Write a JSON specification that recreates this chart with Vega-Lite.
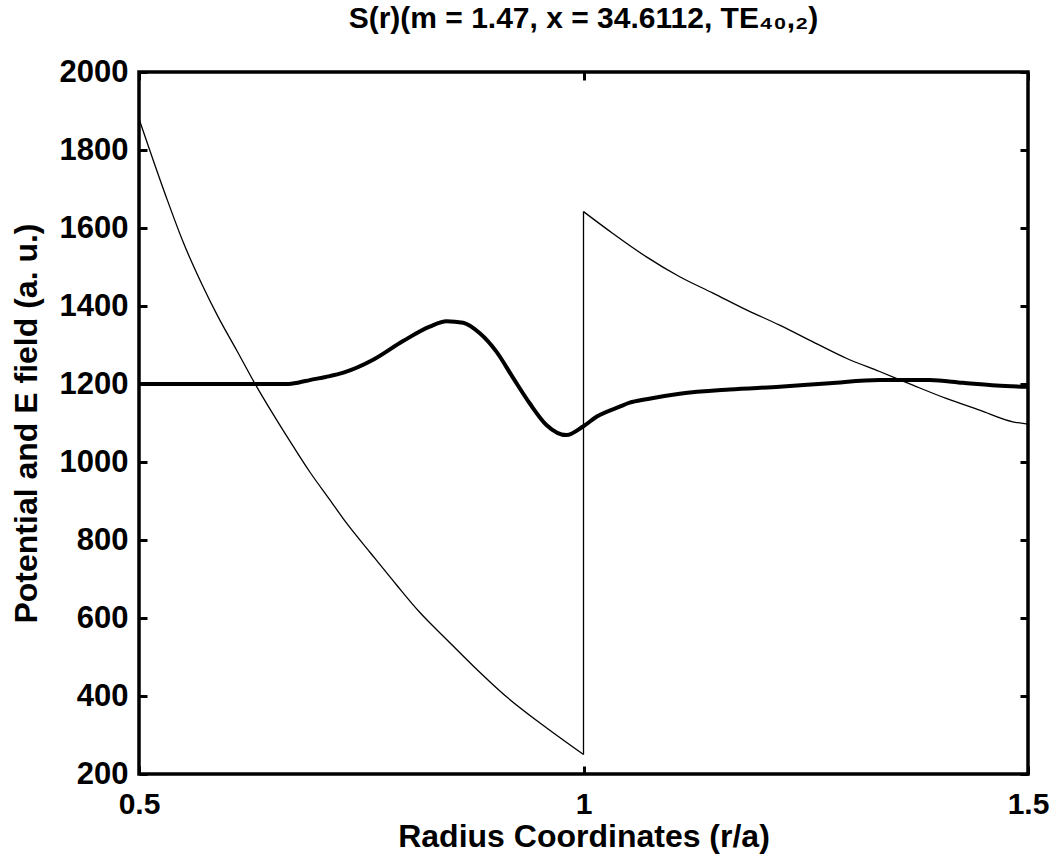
{
  "$schema": "https://vega.github.io/schema/vega-lite/v6.json",
  "width": 889,
  "height": 702,
  "autosize": {"type": "none"},
  "padding": {"left": 139, "top": 72, "right": 29, "bottom": 84},
  "background": "white",
  "title": {
    "text": "S(r)(m = 1.47, x = 34.6112, TE₄₀,₂)",
    "font": "Liberation Sans",
    "fontSize": 30,
    "fontWeight": "bold",
    "color": "black",
    "anchor": "middle",
    "frame": "group",
    "baseline": "alphabetic",
    "offset": 3,
    "dy": 5
  },
  "datasets": {
    "potential": [
      {"seg": "inner", "r": 0.5, "v": 1880},
      {"seg": "inner", "r": 0.512, "v": 1800},
      {"seg": "inner", "r": 0.531, "v": 1677},
      {"seg": "inner", "r": 0.55, "v": 1562},
      {"seg": "inner", "r": 0.5705, "v": 1457},
      {"seg": "inner", "r": 0.589, "v": 1372},
      {"seg": "inner", "r": 0.61, "v": 1286},
      {"seg": "inner", "r": 0.6304, "v": 1201},
      {"seg": "inner", "r": 0.651, "v": 1122},
      {"seg": "inner", "r": 0.6735, "v": 1040},
      {"seg": "inner", "r": 0.692, "v": 975},
      {"seg": "inner", "r": 0.7147, "v": 903},
      {"seg": "inner", "r": 0.7335, "v": 843},
      {"seg": "inner", "r": 0.76, "v": 768},
      {"seg": "inner", "r": 0.79, "v": 684},
      {"seg": "inner", "r": 0.816, "v": 614},
      {"seg": "inner", "r": 0.846, "v": 545},
      {"seg": "inner", "r": 0.876, "v": 477},
      {"seg": "inner", "r": 0.9134, "v": 398},
      {"seg": "inner", "r": 0.9545, "v": 325},
      {"seg": "inner", "r": 1.0, "v": 250},
      {"seg": "jump", "r": 1.0, "v": 250},
      {"seg": "jump", "r": 1.0, "v": 1642},
      {"seg": "outer", "r": 1.0, "v": 1642},
      {"seg": "outer", "r": 1.033, "v": 1586},
      {"seg": "outer", "r": 1.0708, "v": 1526},
      {"seg": "outer", "r": 1.1082, "v": 1475},
      {"seg": "outer", "r": 1.1457, "v": 1433},
      {"seg": "outer", "r": 1.1832, "v": 1390},
      {"seg": "outer", "r": 1.2206, "v": 1351},
      {"seg": "outer", "r": 1.2581, "v": 1308},
      {"seg": "outer", "r": 1.2956, "v": 1266},
      {"seg": "outer", "r": 1.3331, "v": 1232},
      {"seg": "outer", "r": 1.3705, "v": 1197},
      {"seg": "outer", "r": 1.408, "v": 1163},
      {"seg": "outer", "r": 1.4455, "v": 1133},
      {"seg": "outer", "r": 1.4829, "v": 1103},
      {"seg": "outer", "r": 1.5, "v": 1097}
    ],
    "field": [
      {"r": 0.5, "v": 1200},
      {"r": 0.666, "v": 1200},
      {"r": 0.68, "v": 1204},
      {"r": 0.692, "v": 1210},
      {"r": 0.71, "v": 1218},
      {"r": 0.73, "v": 1229},
      {"r": 0.7634, "v": 1262},
      {"r": 0.797, "v": 1310},
      {"r": 0.827, "v": 1347},
      {"r": 0.846, "v": 1361},
      {"r": 0.8646, "v": 1357},
      {"r": 0.8834, "v": 1330},
      {"r": 0.902, "v": 1283},
      {"r": 0.921, "v": 1215},
      {"r": 0.9396, "v": 1150},
      {"r": 0.9583, "v": 1095},
      {"r": 0.9808, "v": 1069},
      {"r": 0.9995, "v": 1091},
      {"r": 1.0146, "v": 1116},
      {"r": 1.0408, "v": 1142},
      {"r": 1.052, "v": 1152},
      {"r": 1.0708, "v": 1161},
      {"r": 1.1082, "v": 1175},
      {"r": 1.1644, "v": 1186},
      {"r": 1.2206, "v": 1193},
      {"r": 1.2768, "v": 1202},
      {"r": 1.3331, "v": 1210},
      {"r": 1.3893, "v": 1210},
      {"r": 1.4267, "v": 1203},
      {"r": 1.4643, "v": 1196},
      {"r": 1.5, "v": 1193}
    ]
  },
  "config": {
    "font": "Liberation Sans",
    "view": {"stroke": "black", "strokeWidth": 3.5},
    "axis": {
      "domain": false,
      "grid": false,
      "tickColor": "black",
      "tickWidth": 3,
      "tickSize": -8,
      "labelFont": "Liberation Sans",
      "labelFontSize": 31,
      "labelFontWeight": "bold",
      "labelColor": "black",
      "labelFlush": false,
      "labelOverlap": false,
      "labelBound": false,
      "titleFont": "Liberation Sans",
      "titleFontSize": 32,
      "titleFontWeight": "bold",
      "titleColor": "black"
    }
  },
  "layer": [
    {
      "mark": {"type": "rule", "stroke": "black", "strokeWidth": 1.3},
      "encoding": {
        "y": {"datum": 1200, "type": "quantitative", "scale": {"domain": [200, 2000], "nice": false, "zero": false}, "axis": null}
      }
    },
    {
      "data": {"name": "potential"},
      "mark": {"type": "line", "stroke": "black", "strokeWidth": 1.3, "interpolate": "monotone"},
      "encoding": {
        "x": {
          "field": "r", "type": "quantitative",
          "scale": {"domain": [0.5, 1.5], "nice": false, "zero": false},
          "axis": {"orient": "bottom", "values": [0.5, 1, 1.5], "format": "~g", "labelFontSize": 30, "labelPadding": 23, "title": "Radius Coordinates (r/a)", "titlePadding": 2}
        },
        "y": {
          "field": "v", "type": "quantitative",
          "scale": {"domain": [200, 2000], "nice": false, "zero": false},
          "axis": {"orient": "left", "values": [200, 400, 600, 800, 1000, 1200, 1400, 1600, 1800, 2000], "format": "d", "labelPadding": 19, "title": "Potential and E field (a. u.)", "titlePadding": 16}
        },
        "detail": {"field": "seg", "type": "nominal"}
      }
    },
    {
      "data": {"name": "field"},
      "mark": {"type": "line", "stroke": "black", "strokeWidth": 4, "interpolate": "monotone"},
      "encoding": {
        "x": {
          "field": "r", "type": "quantitative",
          "scale": {"domain": [0.5, 1.5], "nice": false, "zero": false},
          "axis": {"orient": "top", "values": [0.5, 1, 1.5], "labels": false, "title": null}
        },
        "y": {
          "field": "v", "type": "quantitative",
          "scale": {"domain": [200, 2000], "nice": false, "zero": false},
          "axis": {"orient": "right", "values": [200, 400, 600, 800, 1000, 1200, 1400, 1600, 1800, 2000], "labels": false, "title": null}
        }
      }
    }
  ],
  "resolve": {"axis": {"x": "independent", "y": "independent"}}
}
